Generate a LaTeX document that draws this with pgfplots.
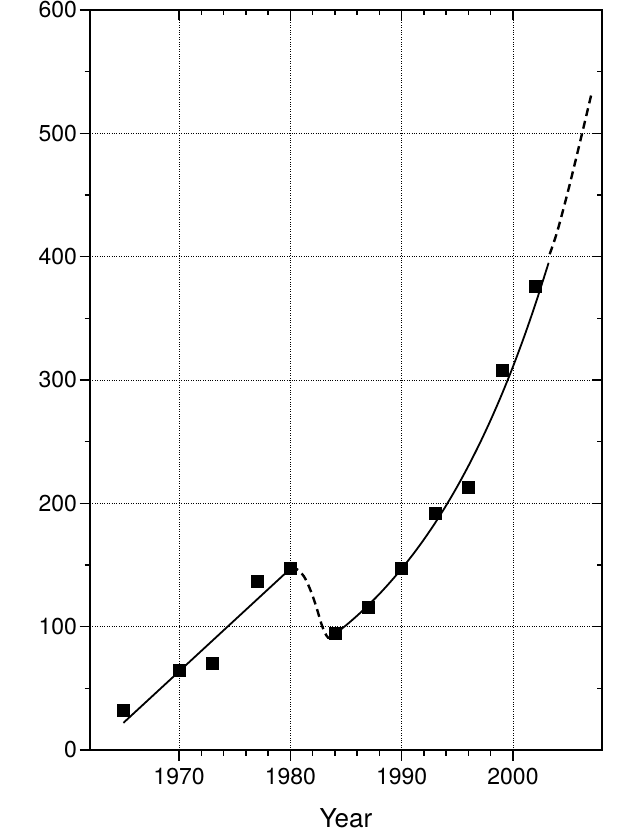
\documentclass[border=0pt]{standalone}
\usepackage{fontspec}
\setmainfont{TeX Gyre Heros}
\usepackage{pgfplots}
\pgfplotsset{compat=1.18}
\begin{document}
\begin{tikzpicture}
\pgfplotsset{common/.style={
  scale only axis, width=512pt, height=740pt,
  xmin=1962, xmax=2008, ymin=0, ymax=600,
  xtick={1970,1980,1990,2000}, ytick={0,100,...,600},
  minor x tick num=4, minor y tick num=1,
  axis line style={line width=1.6pt},
  major tick length=10.5pt, minor tick length=5.5pt,
  every tick/.style={black, line width=1.4pt},
  at={(0,0)}, anchor=south west}}
\begin{axis}[common, name=ax,
  xtick pos=left, ytick pos=left, tick align=outside,
  grid=major, major grid style={black, dotted, line width=0.8pt},
  tick label style={font=\fontsize{23}{25}\selectfont},
  xticklabel style={yshift=-4pt},
  yticklabel style={xshift=1pt},
  /pgf/number format/assume math mode=true,
  /pgf/number format/set thousands separator={},
  xlabel={Year}, xlabel style={font=\fontsize{26}{29}\selectfont, yshift=-17pt}]
\addplot[black, line width=1.8pt] coordinates {(1965,22) (1980,147)};
\addplot[black, line width=2.4pt, dash pattern=on 8pt off 5pt, smooth] coordinates {
 (1980,147) (1980.6,146.5) (1981.2,141) (1981.6,134) (1982,125) (1982.4,114) (1982.8,102) (1983.1,95) (1983.4,91) (1983.6,91)};
\addplot[black, line width=1.8pt, smooth] coordinates {
 (1983.6,91) (1985,101.1) (1986,108.9) (1987,117.4) (1988,126.5) (1989,136.4) (1990,147.0)
 (1991,158.4) (1992,170.7) (1993,184.0) (1994,198.3) (1995,213.7) (1996,230.4) (1997,248.3)
 (1998,267.6) (1999,288.4) (2000,310.8) (2001,335.0) (2002,361.1) (2003,389.2) (2003.2,395)};
\addplot[black, line width=2.4pt, dash pattern=on 8pt off 5pt, smooth] coordinates {
 (2003.3,402) (2004,421) (2005,455) (2006,492) (2007,530) (2007.1,534)};
\addplot[only marks, mark=square*, mark size=6pt, black] coordinates {
 (1965,32) (1970,65) (1973,70) (1977,137) (1980,147) (1984,95) (1987,116)
 (1990,147) (1993,192) (1996,213) (1999,308) (2002,376)};
\end{axis}
\begin{axis}[common,
  xtick pos=right, ytick pos=right, tick align=inside,
  major tick length=10pt, minor tick length=5pt,
  xticklabels={}, yticklabels={}]
\end{axis}
\pgfresetboundingbox
\path[use as bounding box] ([shift={(-90pt,-85pt)}]ax.south west) rectangle ([shift={(38pt,10pt)}]ax.north east);
\end{tikzpicture}
\end{document}
